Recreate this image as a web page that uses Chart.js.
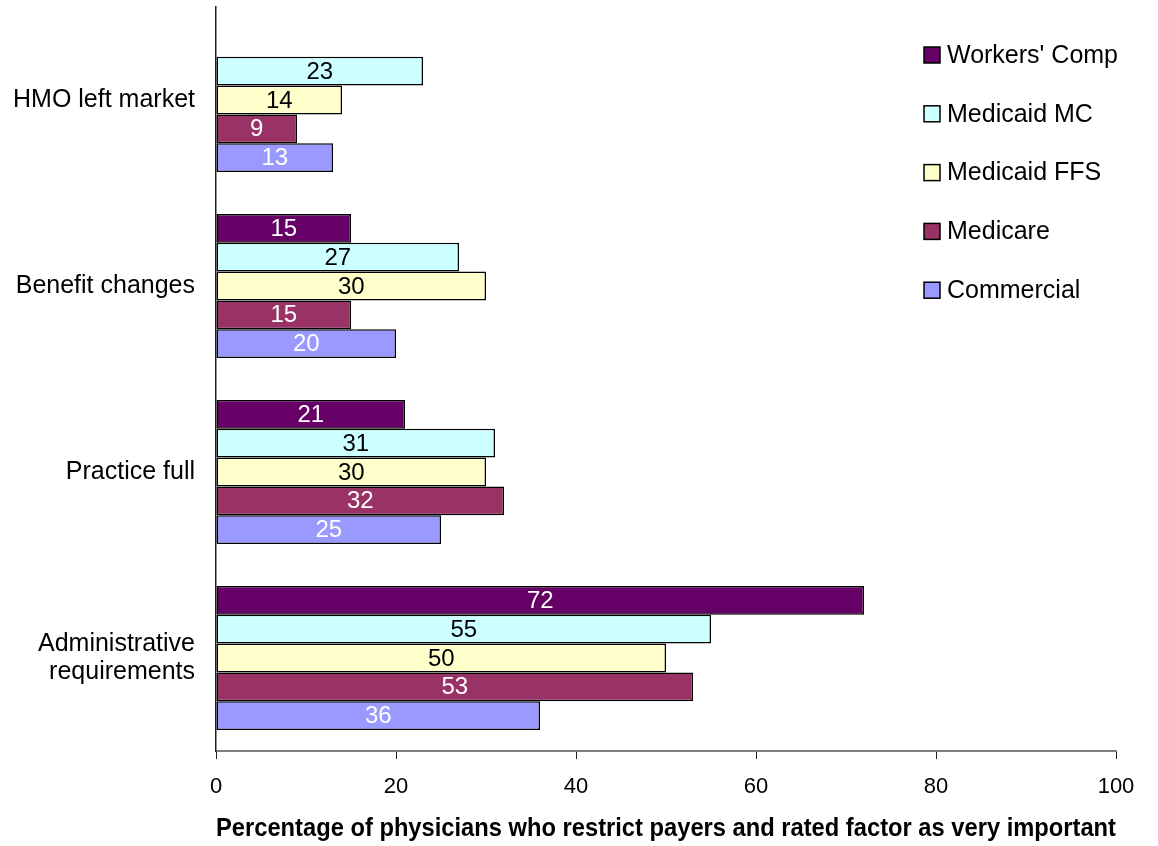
<!DOCTYPE html>
<html>
<head>
<meta charset="utf-8">
<script src="https://cdn.jsdelivr.net/npm/chart.js@4.4.0/dist/chart.umd.min.js"></script>
<style>
  html, body { margin: 0; padding: 0; background: #fff; }
  #wrap { width: 1158px; height: 846px; position: relative; }
</style>
</head>
<body>
<div id="wrap"><canvas id="chart"></canvas></div>
<script>
// kategori (dari atas ke bawah)
const categories = ['HMO left market', 'Benefit changes', 'Practice full', ['Administrative', 'requirements']];

// nilai tiap seri
const workersComp = [null, 15, 21, 72];
const medicaidMC = [23, 27, 31, 55];
const medicaidFFS = [14, 30, 30, 50];
const medicare = [9, 15, 32, 53];
const commercial = [13, 20, 25, 36];

const seriesNames = ["Workers' Comp", 'Medicaid MC', 'Medicaid FFS', 'Medicare', 'Commercial'];
const seriesColors = ['#660066', '#CCFFFF', '#FFFFCC', '#993366', '#9999FF'];
const labelColors = ['#ffffff', '#000000', '#000000', '#ffffff', '#ffffff'];

const xTicks = [0, 20, 40, 60, 80, 100];
const xTitle = 'Percentage of physicians who restrict payers and rated factor as very important';

const FONT = '"Liberation Sans", Arial, sans-serif';

// Plugin untuk menulis angka di tengah batang
const barLabels = {
    id: 'barLabels',
    afterDatasetsDraw(chart) {
        const ctx = chart.ctx;
        ctx.save();
        ctx.font = '24px ' + FONT;
        ctx.textAlign = 'center';
        ctx.textBaseline = 'middle';
        chart.data.datasets.forEach((ds, i) => {
            const meta = chart.getDatasetMeta(i);
            meta.data.forEach((bar, j) => {
                const v = ds.data[j];
                if (v === null || v === undefined) return;
                ctx.fillStyle = labelColors[i];
                ctx.fillText(String(v), (bar.x + bar.base) / 2, bar.y + 1);
            });
        });
        ctx.restore();
    }
};

// Plugin legenda di pojok kanan atas
const sideLegend = {
    id: 'sideLegend',
    afterDraw(chart) {
        const ctx = chart.ctx;
        ctx.save();
        ctx.font = '25px ' + FONT;
        ctx.textAlign = 'left';
        ctx.textBaseline = 'middle';
        seriesNames.forEach((name, i) => {
            const y = 55 + i * 58.8;
            ctx.fillStyle = seriesColors[i];
            ctx.fillRect(924, y - 8, 16, 16);
            ctx.lineWidth = 1.5;
            ctx.strokeStyle = '#000';
            ctx.strokeRect(924, y - 8, 16, 16);
            ctx.fillStyle = '#000';
            ctx.fillText(name, 947, y + 1);
        });
        ctx.restore();
    }
};

const values = [workersComp, medicaidMC, medicaidFFS, medicare, commercial];

const ctx = document.getElementById('chart').getContext('2d');
new Chart(ctx, {
    type: 'bar',
    data: {
        labels: categories,
        datasets: seriesNames.map((name, i) => ({
            label: name,
            data: values[i],
            backgroundColor: seriesColors[i],
            borderColor: '#000',
            borderWidth: 1.5,
            borderSkipped: false,
            barPercentage: 1,
            categoryPercentage: 0.775
        }))
    },
    options: {
        indexAxis: 'y',
        responsive: true,
        maintainAspectRatio: false,
        animation: false,
        layout: { padding: { top: 7, right: 42, left: 0, bottom: 0 } },
        plugins: {
            legend: { display: false },
            tooltip: { enabled: false }
        },
        scales: {
            x: {
                min: 0,
                max: 100,
                afterBuildTicks: (scale) => { scale.ticks = xTicks.map(v => ({ value: v })); },
                afterFit: (scale) => { scale.height = 95; },
                grid: {
                    drawOnChartArea: false,
                    drawTicks: true,
                    tickLength: 8,
                    tickColor: '#222',
                    lineWidth: 1
                },
                border: { display: true, color: '#808080', width: 2 },
                ticks: {
                    color: '#000',
                    padding: 15,
                    font: { family: FONT, size: 22 }
                },
                title: {
                    display: true,
                    text: xTitle,
                    color: '#000',
                    font: { family: FONT, size: 25, weight: 'bold' },
                    padding: { top: 0, bottom: 2 }
                }
            },
            y: {
                afterFit: (scale) => {
                    scale.width = 216;
                    scale.paddingTop = 0;
                    scale.paddingBottom = 0;
                },
                grid: { display: false, drawTicks: false },
                border: { display: true, color: '#222', width: 1.5 },
                ticks: {
                    color: '#000',
                    padding: 21,
                    font: { family: FONT, size: 25, lineHeight: 1.12 }
                }
            }
        }
    },
    plugins: [barLabels, sideLegend]
});
</script>
</body>
</html>
